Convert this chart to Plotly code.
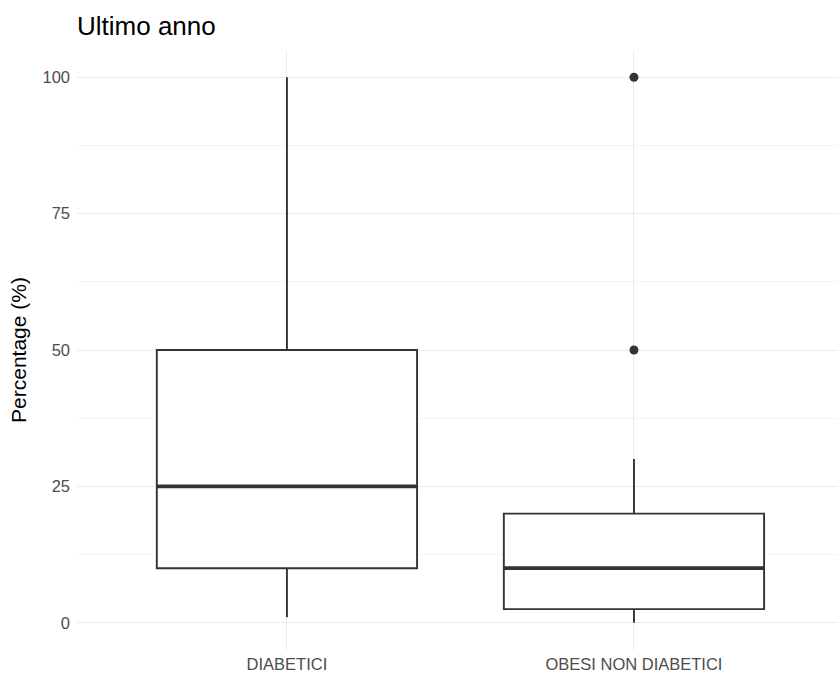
import plotly.graph_objects as go

# Group labels and summary statistics (percent)
groups = ["DIABETICI", "OBESI NON DIABETICI"]
q1 = [10, 2.5]
median = [25, 10]
q3 = [50, 20]
lower_whisker = [1, 0]
upper_whisker = [100, 30]
outlier_group = [1, 1]
outlier_values = [50, 100]

positions = list(range(len(groups)))
box_width = 0.75
dark = "#333333"
grid = "#EBEBEB"

fig = go.Figure()

fig.add_trace(go.Box(
    x=positions,
    q1=q1, median=median, q3=q3,
    lowerfence=lower_whisker, upperfence=upper_whisker,
    width=box_width,
    fillcolor="white",
    line=dict(color=dark, width=1.9),
    whiskerwidth=0,
    boxpoints=False,
    hoverinfo="skip",
    showlegend=False,
))

# Thicker median lines, as in ggplot2 boxplots
for p, m in zip(positions, median):
    fig.add_trace(go.Scatter(
        x=[p - box_width / 2, p + box_width / 2], y=[m, m],
        mode="lines", line=dict(color=dark, width=3.8),
        hoverinfo="skip", showlegend=False,
    ))

fig.add_trace(go.Scatter(
    x=outlier_group, y=outlier_values, mode="markers",
    marker=dict(color=dark, size=9),
    hoverinfo="skip", showlegend=False,
))

fig.update_layout(
    width=838, height=673,
    margin=dict(l=77, r=0, t=50, b=23),
    paper_bgcolor="white", plot_bgcolor="white",
    font=dict(family="Liberation Sans, Arial, sans-serif", color="#4D4D4D"),
    title=dict(text="Ultimo anno", x=0, xref="paper", xanchor="left",
               y=1 - 26 / 673, yanchor="middle",
               font=dict(size=26, color="black")),
    xaxis=dict(
        range=[-0.605, 1.588], tickmode="array", tickvals=positions, ticktext=groups,
        showgrid=True, gridcolor=grid, gridwidth=1.2, zeroline=False,
        showline=False, ticks="", tickfont=dict(size=16.5, color="#4D4D4D"),
        ticklabelstandoff=2,
        fixedrange=True,
    ),
    yaxis=dict(
        range=[-5, 105], tickvals=[0, 25, 50, 75, 100],
        showgrid=True, gridcolor=grid, gridwidth=1.2, zeroline=False,
        showline=False, ticks="", tickfont=dict(size=16.5, color="#4D4D4D"),
        ticklabelstandoff=6,
        title=dict(text="Percentage (%)", font=dict(size=21, color="black"), standoff=10),
        minor=dict(tickvals=[12.5, 37.5, 62.5, 87.5], showgrid=True,
                   gridcolor="#F4F4F4", gridwidth=1),
        fixedrange=True,
    ),
)

fig.write_html("out.html")
